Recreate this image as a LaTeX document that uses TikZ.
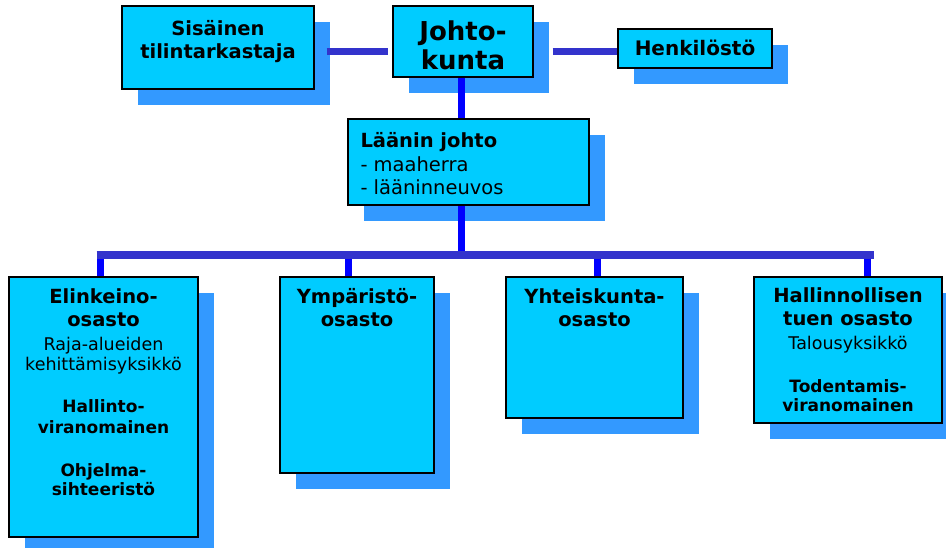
\documentclass[tikz,border=0pt]{standalone}
\usepackage{fontspec}
\setmainfont{DejaVu Sans}
\usetikzlibrary{positioning}
\usetikzlibrary{shadows}
\definecolor{boxcyan}{RGB}{0,204,255}
\definecolor{shadowblue}{RGB}{51,153,255}
\definecolor{linkblue}{RGB}{51,51,204}
\definecolor{dropblue}{RGB}{0,0,255}
\newcommand{\subtxt}{\fontsize{17.5}{20}\selectfont\mdseries}
\newcommand{\subbold}{\fontsize{17}{20}\selectfont\bfseries}

\begin{document}
\begin{tikzpicture}[x=1pt,y=-1pt,
  box/.style={draw=black,line width=1.4pt,fill=boxcyan,inner sep=0pt,
    drop shadow={shadow xshift=16pt,shadow yshift=-16pt,fill=shadowblue,opacity=1}},
  title/.style={font=\fontsize{19.5}{23}\selectfont\bfseries,align=center,inner sep=0pt},
  hline/.style={linkblue,line width=7pt},
  vline/.style={dropblue,line width=7pt}]
\useasboundingbox (0,0) rectangle (946,548);
\node[box,minimum width=192pt,minimum height=83pt] (sis) at (218,47.5) {};
\node[box,minimum width=140pt,minimum height=71pt] (john) at (463,41.5) {};
\node[box,minimum width=154pt,minimum height=39pt] (henk) at (695,48.5) {};
\node[box,minimum width=241pt,minimum height=86pt] (laan) at (468.5,162) {};
\node[box,minimum width=189pt,minimum height=260pt] (elink) at (103.5,407) {};
\node[box,minimum width=154pt,minimum height=196pt] (ymp) at (357,375) {};
\node[box,minimum width=177pt,minimum height=141pt] (yht) at (594.5,347.5) {};
\node[box,minimum width=188pt,minimum height=146pt] (hall) at (848,350) {};

\node[title,below=15pt of sis.north] (sistext) {Sis\"ainen\\tilintarkastaja};
\node[title,font=\fontsize{26}{29}\selectfont\bfseries,below=15pt of john.north] (johntext) {Johto-\\kunta};
\node[title,font=\fontsize{20}{23}\selectfont\bfseries,below=11.5pt of henk.north] (henktext) {Henkil\"ost\"o};
\node[title,align=left,below right=14pt and 13pt of laan.north west] (laantext)
  {L\"a\"anin johto\\[1pt]\mdseries - maaherra\\\mdseries - l\"a\"aninneuvos};
\node[title,below=12pt of elink.north] (elinktext)
  {Elinkeino-\\osasto\\[1pt]\subtxt Raja-alueiden\\[-3pt]\subtxt kehitt\"amisyksikk\"o\\[19pt]%
   \subbold Hallinto-\\[-2pt]\subbold viranomainen\\[20pt]\subbold Ohjelma-\\[-4pt]\subbold sihteerist\"o};
\node[title,below=12pt of ymp.north] (ymptext) {Ymp\"arist\"o-\\osasto};
\node[title,below=12pt of yht.north] (yhttext) {Yhteiskunta-\\osasto};
\node[title,below=11pt of hall.north] (halltext)
  {Hallinnollisen\\tuen osasto\\[1pt]\subtxt Talousyksikk\"o\\[20pt]%
   \subbold Todentamis-\\[-4pt]\subbold viranomainen};

\coordinate (topline) at (0,52);
\draw[hline,shorten <=12pt,shorten >=4pt] (sis.east |- topline) -- (john.west |- topline);
\draw[hline,shorten <=19pt] (john.east |- topline) -- (henk.west |- topline);
\coordinate (spine) at (461,255);
\draw[vline] (spine |- john.south) -- (spine |- laan.north);
\draw[vline] (spine |- laan.south) -- (spine);
\foreach \b/\x in {elink/100,ymp/348,yht/597,hall/867}{
  \coordinate (drop-\b) at (\x,255);
  \draw[vline] (drop-\b) -- (drop-\b |- \b.north);
}
\draw[hline,line width=8pt] ([xshift=-3.5pt]drop-elink) -- ([xshift=7pt]drop-hall);
\end{tikzpicture}
\end{document}
